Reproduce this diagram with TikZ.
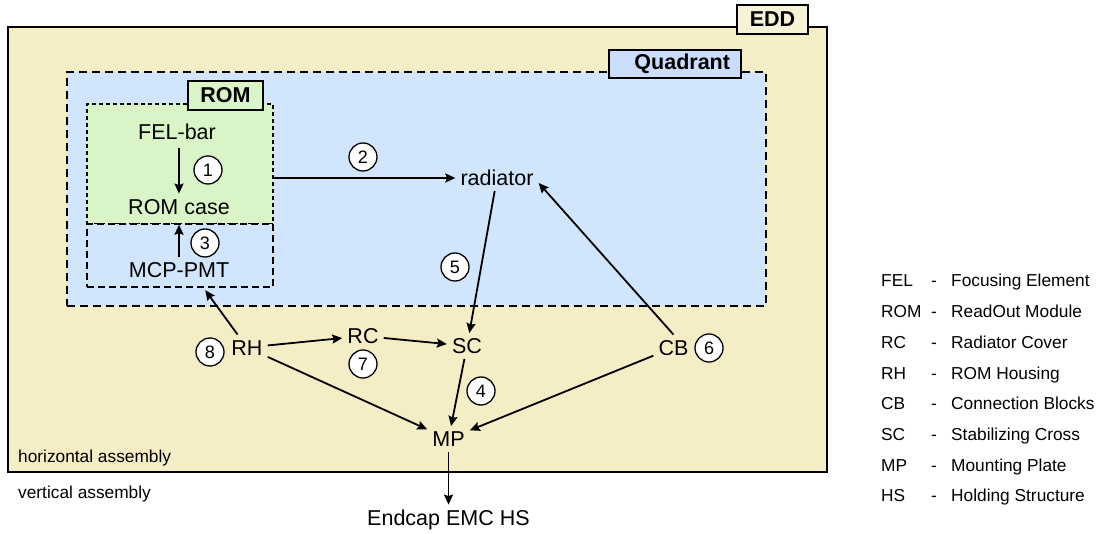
\documentclass[tikz,border=0pt]{standalone}
\usepackage{fontspec}
\setmainfont{Liberation Sans}
\usetikzlibrary{arrows.meta}
\definecolor{eddfill}{HTML}{F5EDC6}
\definecolor{eddlab}{HTML}{F7F3D8}
\definecolor{quadfill}{HTML}{D1E5FC}
\definecolor{quadlab}{HTML}{CBDDFA}
\definecolor{romfill}{HTML}{D9F5C7}
\begin{document}
\begin{tikzpicture}[x=1pt,y=-1pt,
 lbl/.style={font=\fontsize{21.5}{24}\selectfont, text height=15.4pt, text depth=0pt, inner sep=5pt},
 num/.style={circle, draw, line width=1.3pt, fill=white, minimum size=28pt, inner sep=0pt, font=\fontsize{18}{20}\selectfont},
 tag/.style={draw, line width=1.8pt, minimum height=29pt, inner sep=0pt, font=\bfseries\fontsize{21.5}{24}\selectfont},
 conn/.style={-{Stealth[length=10pt,width=9pt,inset=1.5pt]}, line width=1.8pt},
 small/.style={font=\fontsize{17.3}{20}\selectfont, inner sep=0pt, anchor=base west},
 group/.style={inner sep=0pt},
]
\useasboundingbox (0,0) rectangle (1098,534);
% containers
\node[group, draw, line width=2pt, fill=eddfill, minimum width=819pt, minimum height=445pt] (edd) at (417.5,249.5) {};
\node[group, draw, line width=1.8pt, dash pattern=on 8pt off 5pt, fill=quadfill, minimum width=699pt, minimum height=234pt] (quad) at (416.5,189) {};
\node[group, draw, line width=1.5pt, dash pattern=on 4pt off 3pt, fill=romfill, minimum width=186pt, minimum height=120pt] (rombox) at (180,164) {};
\node[group, draw, line width=1.5pt, dash pattern=on 7pt off 4pt, fill=quadfill, minimum width=186pt, minimum height=63pt] (mcpbox) at (180,255.5) {};
% tags
\node[tag, fill=eddlab, minimum width=71pt] (eddtag) at (772.5,19.5) {EDD};
\node[tag, fill=quadlab, minimum width=132pt, minimum height=28pt, text width=110pt, inner xsep=11pt, align=right] (quadtag) at (675,64) {Quadrant};
\node[tag, fill=romfill, minimum width=75pt] (romtag) at (225.5,95.5) {ROM};
% items
\node[lbl] (fel) at (177,131.5) {FEL-bar};
\node[lbl] (romcase) at (179,206.5) {ROM case};
\node[lbl] (mcp) at (179,270) {MCP-PMT};
\node[lbl] (rad) at (497,178) {radiator};
\node[lbl] (sc) at (467,346) {SC};
\node[lbl] (rc) at (363,336) {RC};
\node[lbl] (mp) at (448.5,439) {MP};
\node[lbl] (cb) at (673.5,347.5) {CB};
\node[lbl] (rh) at (247,347.5) {RH};
\node[lbl] (hs) at (448.5,517.5) {Endcap EMC HS};
% connectors
\draw[conn, shorten <=4pt] (fel.south -| romcase) -- (romcase);
\draw[conn] (mcp) -- (mcp |- rombox.south);
\draw[conn] (rombox.east |- rad) -- (rad);
\draw[conn] (rad) -- (sc);
\draw[conn] (cb.north) -- ([yshift=-5pt]rad.east);
\draw[conn, shorten >=3pt] (rh) -- (mcpbox);
\draw[conn] (rh) -- (rc);
\draw[conn] (rc) -- (sc);
\draw[conn] (rh) -- (mp);
\draw[conn] (sc) -- (mp);
\draw[conn] (cb) -- (mp);
\draw[conn] (mp) -- (hs);
% step numbers
\node[num] (n1) at (208,170) {1};
\node[num] (n2) at (363,157) {2};
\node[num] (n3) at (205,243) {3};
\node[num] (n4) at (481,391) {4};
\node[num] (n5) at (455,267) {5};
\node[num] (n6) at (709,348) {6};
\node[num] (n7) at (363,364) {7};
\node[num] (n8) at (210,352) {8};
% assembly notes
\node[small] (hz) at (18,463) {horizontal assembly};
\node[small] (vt) at (18,498) {vertical assembly};
% legend
\foreach \a/\b [count=\i from 0] in {FEL/Focusing Element, ROM/ReadOut Module, RC/Radiator Cover, RH/ROM Housing, CB/Connection Blocks, SC/Stabilizing Cross, MP/Mounting Plate, HS/Holding Structure} {
 \node[small] (ab\i) at (881,{287+30.7*\i}) {\a};
 \node[small, anchor=base] (da\i) at (934,{287+30.7*\i}) {-};
 \node[small] (de\i) at (951,{287+30.7*\i}) {\b};
}
\end{tikzpicture}
\end{document}
